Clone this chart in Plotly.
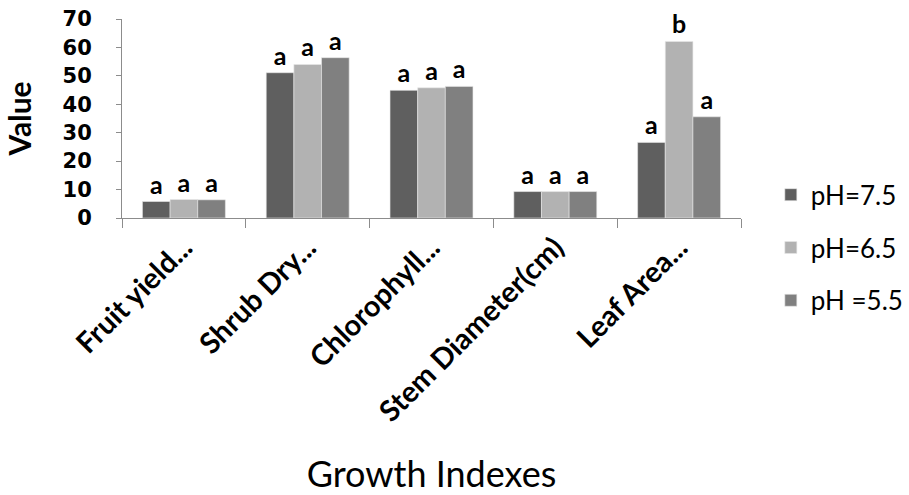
import plotly.graph_objects as go

categories = ["Fruit yield...", "Shrub Dry...", "Chlorophyll...", "Stem Diameter(cm)", "Leaf Area..."]
series_names = ["pH=7.5", "pH=6.5", "pH =5.5"]
ph75 = [5.8, 51.1, 44.9, 9.3, 26.6]
ph65 = [6.5, 54.0, 45.8, 9.3, 62.1]
ph55 = [6.4, 56.4, 46.3, 9.3, 35.6]
letters75 = ["a", "a", "a", "a", "a"]
letters65 = ["a", "a", "a", "a", "b"]
letters55 = ["a", "a", "a", "a", "a"]
y_ticks = [0, 10, 20, 30, 40, 50, 60, 70]

colors = ["#5f5f5f", "#b2b2b2", "#808080"]
FONT = "Lato"

fig = go.Figure()
for i, (name, vals, lets) in enumerate(zip(series_names, [ph75, ph65, ph55], [letters75, letters65, letters55])):
    fig.add_trace(go.Bar(
        x=categories, y=vals, name=name, text=lets,
        textposition="outside", constraintext="none", cliponaxis=False,
        textfont=dict(family=FONT, size=25, color="black", weight="bold"),
        marker=dict(color=colors[i], line=dict(width=0.6, color="#e8e8e8")),
        legendgroup=name,
    ))

fig.update_layout(
    width=909, height=495,
    margin=dict(l=122, r=168, t=19, b=277, autoexpand=False),
    paper_bgcolor="white", plot_bgcolor="white",
    barmode="group", bargap=0.33, bargroupgap=0,
    showlegend=True,
    legend=dict(x=0.848, xanchor="left", y=0.654, yanchor="top", xref="container", yref="container",
                font=dict(family=FONT, size=26, color="black"),
                tracegroupgap=16, itemwidth=30, bgcolor="rgba(0,0,0,0)"),
    font=dict(family=FONT, color="black"),
)
fig.update_yaxes(
    range=[0, 70], tickvals=y_ticks, showgrid=False, zeroline=False,
    showline=True, linecolor="#8c8c8c", linewidth=1,
    ticks="outside", ticklen=5, tickcolor="#8c8c8c",
    tickfont=dict(family="DejaVu Sans", size=21, color="black", weight="bold"),
    ticklabelstandoff=20, ticklabeloverflow="allow",
    title=dict(text="Value", font=dict(family=FONT, size=30, color="black", weight="bold"), standoff=22),
)
fig.update_xaxes(
    showgrid=False, showline=True, linecolor="#8c8c8c", linewidth=1,
    ticks="outside", ticklen=9, tickcolor="#8c8c8c", tickson="boundaries",
    tickangle=-45,
    tickfont=dict(family=FONT, size=29, color="black", weight="bold"),
    title=dict(text="Growth Indexes", font=dict(family=FONT, size=36, color="black"), standoff=37),
)

fig.write_html("out.html", config={"displayModeBar": False},
               post_script="document.body.style.margin='0';")
